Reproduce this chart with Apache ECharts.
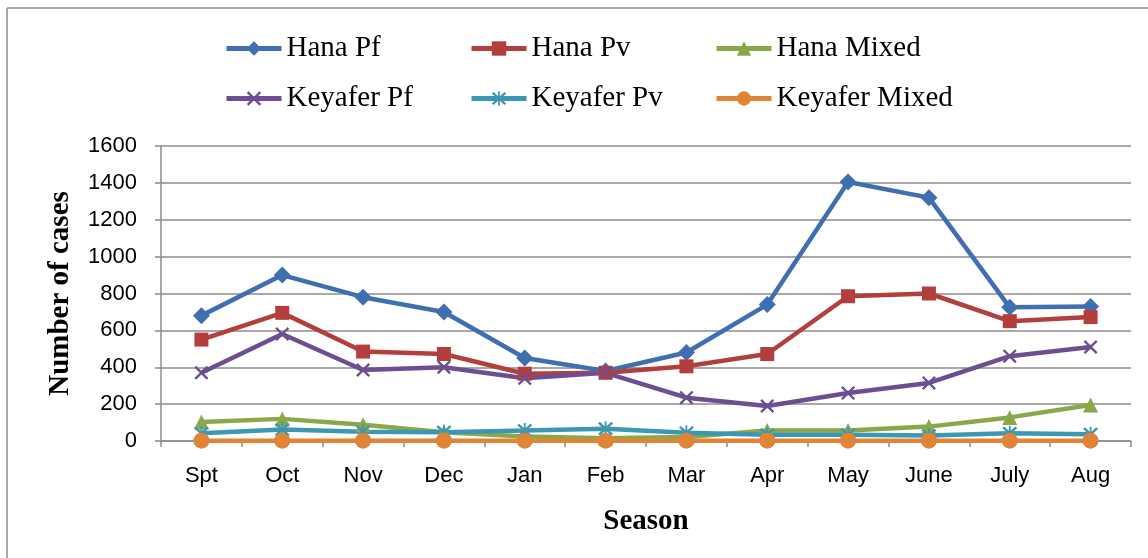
<!DOCTYPE html>
<html>
<head>
<meta charset="utf-8">
<script src="https://cdn.jsdelivr.net/npm/echarts@6/dist/echarts.min.js"></script>
<style>
  html, body { margin: 0; padding: 0; background: #fff; }
  #chart { width: 1148px; height: 558px; }
</style>
</head>
<body>
<div id="chart"></div>
<script>
// data
var seasons = ['Spt', 'Oct', 'Nov', 'Dec', 'Jan', 'Feb', 'Mar', 'Apr', 'May', 'June', 'July', 'Aug'];
var hanaPf = [680, 900, 780, 700, 450, 380, 480, 740, 1405, 1320, 725, 730];
var hanaPv = [550, 695, 485, 472, 365, 370, 405, 472, 785, 800, 650, 672];
var hanaMixed = [103, 120, 88, 47, 25, 15, 22, 57, 57, 78, 128, 195];
var keyaferPf = [370, 580, 385, 400, 340, 370, 235, 190, 260, 315, 460, 510];
var keyaferPv = [42, 62, 50, 48, 57, 67, 45, 34, 34, 30, 42, 37];
var keyaferMixed = [2, 2, 2, 2, 2, 2, 2, 2, 2, 2, 2, 2];
var yTicks = [0, 200, 400, 600, 800, 1000, 1200, 1400, 1600];

var xMark = 'path://M0,1.2L1.2,0L5,3.8L8.8,0L10,1.2L6.2,5L10,8.8L8.8,10L5,6.2L1.2,10L0,8.8L3.8,5Z';
var starMark = 'path://M0,1.2L1.2,0L5,3.8L8.8,0L10,1.2L6.2,5L10,8.8L8.8,10L5,6.2L1.2,10L0,8.8L3.8,5Z' +
  'M4.4,-0.5L5.6,-0.5L5.6,10.5L4.4,10.5Z';

var serif = '"Liberation Serif", "Times New Roman", serif';
var sans = '"Liberation Sans", Arial, sans-serif';

function makeSeries(name, data, color, symbol, size) {
  return {
    name: name,
    type: 'line',
    data: data,
    symbol: symbol,
    symbolSize: size,
    lineStyle: { width: 4.5, color: color },
    itemStyle: { color: color },
    emphasis: { disabled: true },
    animation: false
  };
}

function legendItem(name, left, top) {
  return {
    data: [name],
    left: left,
    top: top,
    padding: 0,
    itemWidth: 55,
    itemHeight: 18,
    itemGap: 0,
    lineStyle: { width: 5 },
    textStyle: { fontFamily: serif, fontSize: 29, color: '#000' }
  };
}

var chart = echarts.init(document.getElementById('chart'));
var option = {
  backgroundColor: '#fff',
  animation: false,
  graphic: [
    { type: 'line', shape: { x1: 7, y1: 8, x2: 1148, y2: 8 }, style: { stroke: '#8c8c8c', lineWidth: 1.5 } },
    { type: 'line', shape: { x1: 7, y1: 8, x2: 7, y2: 558 }, style: { stroke: '#8c8c8c', lineWidth: 1.5 } }
  ],
  legend: [
    legendItem('Hana Pf', 224, 34),
    legendItem('Hana Pv', 469, 34),
    legendItem('Hana Mixed', 714, 34),
    legendItem('Keyafer Pf', 224, 84),
    legendItem('Keyafer Pv', 469, 84),
    legendItem('Keyafer Mixed', 714, 84)
  ],
  grid: { left: 161, right: 17, top: 146, bottom: 117 },
  xAxis: {
    type: 'category',
    data: seasons,
    boundaryGap: true,
    name: 'Season',
    nameLocation: 'middle',
    nameGap: 66,
    nameTextStyle: { fontFamily: serif, fontSize: 29, fontWeight: 'bold', color: '#000' },
    axisLine: { lineStyle: { color: '#8c8c8c', width: 1.5 } },
    axisTick: { show: true, length: 6, lineStyle: { color: '#8c8c8c', width: 1.5 } },
    axisLabel: { fontFamily: sans, fontSize: 22, color: '#000', margin: 24 }
  },
  yAxis: {
    type: 'value',
    min: yTicks[0],
    max: yTicks[yTicks.length - 1],
    interval: 200,
    name: 'Number of cases',
    nameLocation: 'middle',
    nameGap: 86,
    nameTextStyle: { fontFamily: serif, fontSize: 29, fontWeight: 'bold', color: '#000' },
    axisLine: { show: true, lineStyle: { color: '#8c8c8c', width: 1.5 } },
    axisTick: { show: true, length: 6, lineStyle: { color: '#8c8c8c', width: 1.5 } },
    axisLabel: { fontFamily: sans, fontSize: 22, color: '#000', margin: 24, formatter: function (v) { return String(v); } },
    splitLine: { lineStyle: { color: '#8c8c8c', width: 1.5 } }
  },
  series: [
    makeSeries('Hana Pf', hanaPf, '#3f6fb0', 'diamond', 17),
    makeSeries('Hana Pv', hanaPv, '#b33f3c', 'rect', 14),
    makeSeries('Hana Mixed', hanaMixed, '#8aa84a', 'triangle', 15),
    makeSeries('Keyafer Pf', keyaferPf, '#6d4f91', xMark, 14),
    makeSeries('Keyafer Pv', keyaferPv, '#3c98b2', starMark, 15),
    makeSeries('Keyafer Mixed', keyaferMixed, '#e08438', 'circle', 16)
  ]
};
chart.setOption(option);
</script>
</body>
</html>
